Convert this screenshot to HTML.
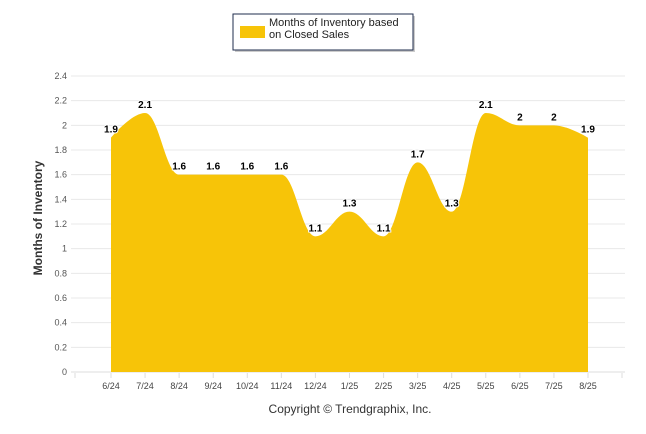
<!DOCTYPE html>
<html><head><meta charset="utf-8"><style>
body{margin:0;background:#fff;font-family:"Liberation Sans",sans-serif}
svg{display:block}
</style></head><body>
<svg id="c" width="646" height="434" xmlns="http://www.w3.org/2000/svg">
<g>
<rect x="235" y="16" width="180" height="36" fill="#999" opacity="0.5"/>
<rect x="233" y="14" width="180" height="36" fill="#fff" stroke="#1f2d4d" stroke-width="1"/>
<rect x="240" y="26" width="25" height="12" fill="#f7c408"/>
<text x="269" y="26" font-size="11" fill="#222"><tspan x="269">Months of Inventory based</tspan><tspan x="269" dy="12">on Closed Sales</tspan></text>
</g>
<g id="grid"></g>
<path id="area" fill="#f7c408"/>
<g id="labels"></g>
<text x="0" y="0" transform="translate(42,218) rotate(-90)" text-anchor="middle" font-size="12" font-weight="bold" fill="#333">Months of Inventory</text>
<text x="350" y="413" text-anchor="middle" font-size="12" fill="#333">Copyright © Trendgraphix, Inc.</text>
</svg>
<script>
const categories=["6/24","7/24","8/24","9/24","10/24","11/24","12/24","1/25","2/25","3/25","4/25","5/25","6/25","7/25","8/25"];
const values=[1.9,2.1,1.6,1.6,1.6,1.6,1.1,1.3,1.1,1.7,1.3,2.1,2,2,1.9];
const valueLabels=["1.9","2.1","1.6","1.6","1.6","1.6","1.1","1.3","1.1","1.7","1.3","2.1","2","2","1.9"];
const yTicks=[0,0.2,0.4,0.6,0.8,1,1.2,1.4,1.6,1.8,2,2.2,2.4];
const NS="http://www.w3.org/2000/svg";
const x0=111,x1=588,yB=372,yT=76,yMax=2.4;
const X=i=>x0+(x1-x0)*i/(categories.length-1);
const Y=v=>yB-(yB-yT)*v/yMax;
const grid=document.getElementById('grid');
function mk(tag,at,parent){const e=document.createElementNS(NS,tag);for(const k in at)e.setAttribute(k,at[k]);parent.appendChild(e);return e;}
yTicks.forEach(t=>{
 const l=mk('line',{x1:71,x2:625,y1:Y(t),y2:Y(t),stroke:t===0?'#ddd':'#e8e8e8','stroke-width':1},grid);
 
 
 const tx=mk('text',{x:67,y:Y(t)+3,'text-anchor':'end','font-size':9,fill:'#555'},grid);
 tx.textContent=String(t);
 
 
});
const step=(x1-x0)/(categories.length-1);
for(let i=-1;i<=categories.length;i++){
 const xx=X(i)+0;
 if(xx<71||xx>625)continue;
}
categories.forEach((c,i)=>{
 const tk=mk('line',{x1:X(i),x2:X(i),y1:yB+1,y2:yB+6,stroke:'#ddd'},grid);
 
 
 const tx=mk('text',{x:X(i),y:389,'text-anchor':'middle','font-size':9,fill:'#444'},grid);
 tx.textContent=c;
 
 
});
[75,622].forEach(xx=>{const tk=mk('line',{x1:xx,x2:xx,y1:yB+1,y2:yB+6,stroke:'#ddd'},grid);});
// highcharts-like spline
const pts=values.map((v,i)=>[X(i),Y(v)]);
let d=`M${pts[0][0]},${yB} L${pts[0][0]},${pts[0][1]}`;
const sm=1.5,den=sm+1;
function ctrl(i){
 const p=pts[i],a=pts[i-1],b=pts[i+1];
 if(!a||!b)return [p,p];
 let lx=(sm*p[0]+a[0])/den,ly=(sm*p[1]+a[1])/den,rx=(sm*p[0]+b[0])/den,ry=(sm*p[1]+b[1])/den;
 let corr=0;
 if(rx!==lx)corr=((ry-ly)*(rx-p[0]))/(rx-lx)+p[1]-ry;
 ly+=corr;ry+=corr;
 if(ly>a[1]&&ly>p[1]){ly=Math.max(a[1],p[1]);ry=2*p[1]-ly;}else if(ly<a[1]&&ly<p[1]){ly=Math.min(a[1],p[1]);ry=2*p[1]-ly;}
 if(ry>b[1]&&ry>p[1]){ry=Math.max(b[1],p[1]);ly=2*p[1]-ry;}else if(ry<b[1]&&ry<p[1]){ry=Math.min(b[1],p[1]);ly=2*p[1]-ry;}
 return [[lx,ly],[rx,ry]];
}
const C=pts.map((p,i)=>ctrl(i));
for(let i=1;i<pts.length;i++){
 const c1=C[i-1][1],c2=C[i][0];
 d+=` C${c1[0]},${c1[1]} ${c2[0]},${c2[1]} ${pts[i][0]},${pts[i][1]}`;
}
d+=` L${pts[pts.length-1][0]},${yB} Z`;
document.getElementById('area').setAttribute('d',d);
const lg=document.getElementById('labels');
values.forEach((v,i)=>{
 const t=mk('text',{x:X(i),y:Y(v)-5,'text-anchor':'middle','font-size':10,'font-weight':'bold',fill:'#000',stroke:'#fff','stroke-width':2,'paint-order':'stroke'},lg);
 t.textContent=valueLabels[i];
 
 
});
</script>
</body></html>
